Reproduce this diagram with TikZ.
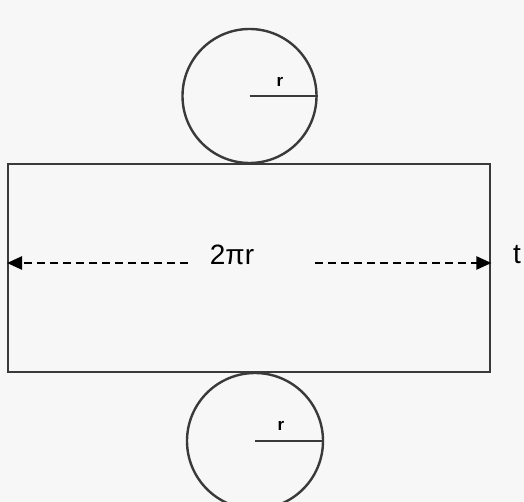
\documentclass[tikz,border=0pt]{standalone}
\usepackage{fontspec}
\setmainfont{Liberation Sans}
\usetikzlibrary{arrows.meta}
\definecolor{bg}{HTML}{F7F7F7}
\definecolor{ln}{HTML}{3A3A3A}
\begin{document}
\begin{tikzpicture}[x=1pt,y=-1pt,
  shape line/.style={draw=ln, line width=2.4pt},
  dim/.style={draw=black, line width=2.4pt, dash pattern=on 8pt off 5pt, -{Triangle[length=15pt,width=13pt]}},
  rlabel/.style={font=\bfseries\fontsize{17}{17}\selectfont, inner sep=0pt},
  big/.style={font=\fontsize{28}{28}\selectfont, inner sep=0pt}]
\fill[bg] (0,0) rectangle (524,502);
\useasboundingbox (0,0) rectangle (524,502);
% rectangle
\node[shape line, rectangle, minimum width=482pt, minimum height=208pt, anchor=north west, inner sep=0pt] (rect) at (7,163) {};
% circles
\node[shape line, circle, minimum size=134pt, inner sep=0pt] (top) at (249.5,96) {};
\node[shape line, circle, minimum size=136pt, inner sep=0pt] (bot) at (255,441) {};
\draw[shape line] (top.center) -- (top.east);
\draw[shape line] (bot.center) -- (bot.east);
\node[rlabel] (rt) at (280,82) {r};
\node[rlabel] (rb) at (281,426) {r};
% dimension
\node[big] (lab) at (232,255) {2πr};
\coordinate (ls) at (188,263);
\coordinate (rs) at (315,263);
\draw[dim] (ls) -- (rect.west |- ls);
\draw[dim] (rs) -- (rect.east |- rs);
\node[big] (t) at (517,255) {t};
\end{tikzpicture}
\end{document}
